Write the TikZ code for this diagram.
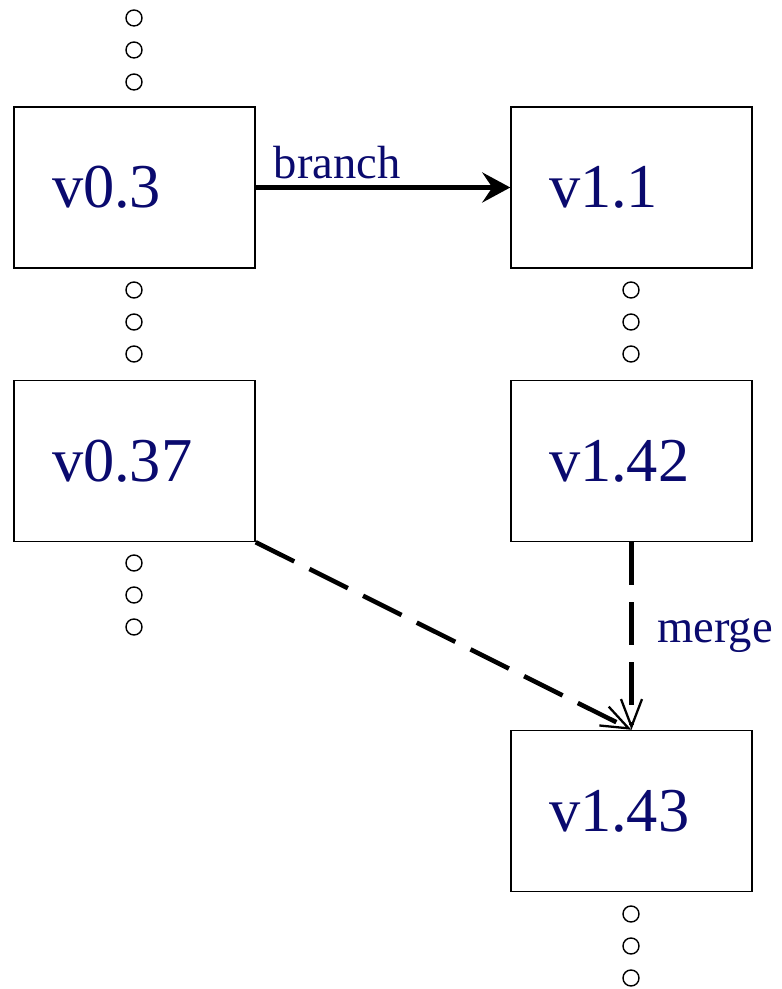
\documentclass[tikz,border=0pt]{standalone}
\usepackage{fontspec}
\setmainfont{Liberation Serif}
\usetikzlibrary{arrows.meta}
\definecolor{vernavy}{RGB}{10,10,110}

\begin{document}
\begin{tikzpicture}[
  version/.style={draw=black, line width=0.8pt, minimum height=3.22cm, text width=3.3cm,
    inner xsep=0.76cm, align=left, font=\fontsize{35.5}{40}\selectfont, text=vernavy},
  tag/.style={font=\fontsize{26.5}{30}\selectfont, text=vernavy},
  gap/.style={draw=black, line width=0.8pt},
  merge/.style={line width=2.6pt, dash pattern=on 0.86cm off 0.34cm,
    -{Straight Barb[length=0.55cm,width=0.42cm,line width=1.3pt]}}]
  \useasboundingbox (0,0) rectangle (15.62,19.78);
  \node[version] (v03) at (2.69,16.03) {v0.3};
  \node[version] (v11) at (12.63,16.03) {v1.1};
  \node[version] (v037) at (2.69,10.56) {v0.37};
  \node[version] (v142) at (12.63,10.56) {v1.42};
  \node[version] (v143) at (12.63,3.56) {v1.43};
  \foreach \x/\y in {2.68/19.42, 2.68/18.78, 2.68/18.14,
                     2.68/13.98, 2.68/13.34, 2.68/12.70,
                     2.68/8.52, 2.68/7.88, 2.68/7.24,
                     12.62/13.98, 12.62/13.34, 12.62/12.70,
                     12.62/1.50, 12.62/0.86, 12.62/0.22}
    \draw[gap] (\x,\y) circle (0.16);
  \draw[line width=2.6pt, -{Stealth[length=0.56cm,width=0.6cm,inset=0.2cm]}]
    (v03.east) -- node[tag, above, pos=0.32] {branch} (v11.west);
  \draw[merge] (v142.south) -- node[tag, right=0.35cm] {merge} (v143.north);
  \draw[merge] (v037.south east) -- (v143.north);
\end{tikzpicture}
\end{document}
